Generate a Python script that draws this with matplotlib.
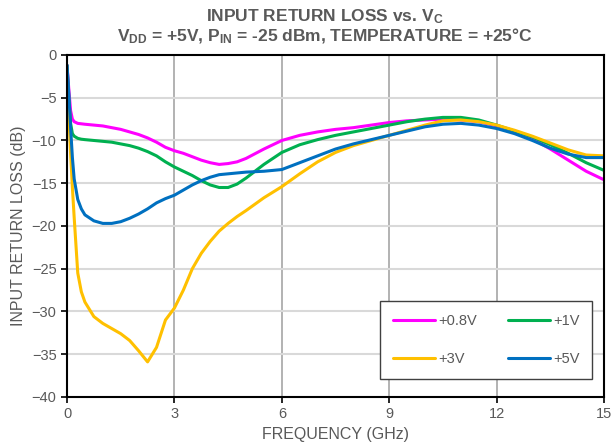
import numpy as np
import matplotlib.pyplot as plt

plt.rcParams['font.family'] = ['Liberation Sans', 'DejaVu Sans']
plt.rcParams['mathtext.fontset'] = 'custom'
plt.rcParams['mathtext.rm'] = 'Liberation Sans:bold'
plt.rcParams['mathtext.default'] = 'rm'

# frequency points (GHz)
freq = [0, 0.05, 0.1, 0.15, 0.2, 0.3, 0.4, 0.5, 0.75, 1.0, 1.25, 1.5, 1.75, 2.0, 2.25, 2.5,
        2.75, 3.0, 3.25, 3.5, 3.75, 4.0, 4.25, 4.5, 4.75, 5.0, 5.5, 6.0, 6.5, 7.0, 7.5,
        8.0, 8.5, 9.0, 9.5, 10.0, 10.5, 11.0, 11.5, 12.0, 12.5, 13.0, 13.5, 14.0, 14.5, 15.0]

# input return loss (dB) per supply voltage
rl_08v = [-1.2, -4.0, -6.5, -7.5, -7.8, -8.0, -8.05, -8.1, -8.2, -8.3, -8.5, -8.7, -9.0, -9.3, -9.7, -10.2,
          -10.8, -11.2, -11.5, -11.9, -12.3, -12.6, -12.8, -12.7, -12.5, -12.1, -11.0, -10.0, -9.4, -9.0, -8.7,
          -8.5, -8.2, -7.9, -7.7, -7.6, -7.5, -7.6, -7.8, -8.3, -8.9, -9.8, -11.0, -12.3, -13.6, -14.6]
rl_1v = [-1.2, -5.0, -8.0, -9.2, -9.5, -9.75, -9.85, -9.9, -10.0, -10.1, -10.2, -10.4, -10.6, -10.9, -11.3, -11.8,
         -12.5, -13.1, -13.6, -14.1, -14.7, -15.2, -15.5, -15.5, -15.1, -14.4, -12.8, -11.4, -10.5, -9.9, -9.4,
         -9.0, -8.6, -8.2, -7.8, -7.5, -7.3, -7.3, -7.6, -8.2, -8.9, -9.6, -10.5, -11.5, -12.6, -13.5]
rl_3v = [-2.0, -7.0, -11.5, -15.5, -19.0, -25.5, -27.7, -28.9, -30.6, -31.4, -32.0, -32.6, -33.4, -34.6, -35.9, -34.2,
         -31.0, -29.6, -27.5, -25.0, -23.2, -21.8, -20.6, -19.7, -18.9, -18.2, -16.7, -15.4, -13.9, -12.5, -11.4,
         -10.6, -10.0, -9.4, -8.8, -8.2, -7.7, -7.6, -7.8, -8.2, -8.8, -9.5, -10.3, -11.1, -11.7, -11.8]
rl_5v = [-1.2, -4.5, -8.5, -12.0, -14.5, -16.9, -18.0, -18.7, -19.4, -19.7, -19.7, -19.5, -19.1, -18.6, -18.0, -17.3,
         -16.8, -16.4, -15.8, -15.2, -14.7, -14.3, -14.0, -13.9, -13.8, -13.7, -13.6, -13.4, -12.6, -11.8, -11.0,
         -10.4, -9.9, -9.4, -8.9, -8.4, -8.1, -8.0, -8.2, -8.6, -9.2, -10.0, -10.9, -11.6, -12.0, -12.0]

labels = ['+0.8V', '+1V', '+3V', '+5V']
colors = ['#FF00FF', '#00B050', '#FFC000', '#0070C0']

fig = plt.figure(figsize=(6.12, 4.46), dpi=100)
ax = fig.add_axes([0.1095, 0.11, 0.8775, 0.7667])

lines = []
for y, lab, c in zip([rl_08v, rl_1v, rl_3v, rl_5v], labels, colors):
    ln, = ax.plot(freq, y, color=c, lw=2.2, label=lab,
                  solid_joinstyle='round', solid_capstyle='round')
    lines.append(ln)

ax.set_xlim(0, 15)
ax.set_ylim(-40, 0)
ax.set_xticks(np.arange(0, 16, 3))
ax.set_yticks(np.arange(-40, 1, 5))

# excel style grid: darker verticals, light horizontals
for xv in [3, 6, 9, 12]:
    ax.axvline(xv, color='#A6A6A6', lw=1.2, zorder=0)
for yv in range(-35, 0, 5):
    ax.axhline(yv, color='#D9D9D9', lw=1.5, zorder=0)

for s in ax.spines.values():
    s.set_color('black')
    s.set_linewidth(1.5)

gray = '#595959'
ax.tick_params(direction='out', length=4, width=1.2, colors='black',
               labelcolor=gray, labelsize=10.5)
ax.set_xlabel('FREQUENCY (GHz)', color=gray, fontsize=11.5, labelpad=4)
ax.set_ylabel('INPUT RETURN LOSS (dB)', color=gray, fontsize=11.5, labelpad=4)

fig.text(0.531, 0.963, r'INPUT RETURN LOSS vs. V$_\mathrm{C}$',
         ha='center', va='center', fontsize=12.5, fontweight='bold', color=gray)
fig.text(0.531, 0.918, r'V$_\mathrm{DD}$ = +5V, P$_\mathrm{IN}$ = -25 dBm, TEMPERATURE = +25°C',
         ha='center', va='center', fontsize=12.5, fontweight='bold', color=gray)

# legend fills by column, so reorder to get rows (+0.8V, +1V) / (+3V, +5V)
order = [0, 2, 1, 3]
leg = ax.legend([lines[i] for i in order], [labels[i] for i in order],
                ncol=2, loc='lower left', bbox_to_anchor=(0.583, 0.053, 0.395, 0.228),
                mode='expand', borderaxespad=0, fancybox=False, framealpha=1,
                edgecolor='#404040', fontsize=10.5, handlelength=2.9, handletextpad=0.2,
                borderpad=0.87, labelspacing=1.65, columnspacing=1.5)
for t in leg.get_texts():
    t.set_color(gray)
leg.get_frame().set_linewidth(1.0)

fig.savefig('out.png', dpi=100)
